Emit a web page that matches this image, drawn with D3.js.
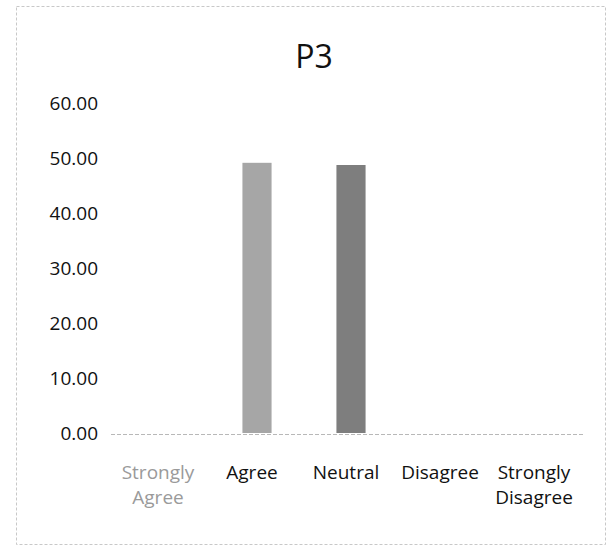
<!DOCTYPE html>
<html>
<head>
<meta charset="utf-8">
<script src="https://cdn.jsdelivr.net/npm/d3@7"></script>
<style>
  html, body { margin: 0; padding: 0; background: #fff; }
  svg { display: block; }
  text { font-family: "Open Sans", "Noto Sans", sans-serif; }
</style>
</head>
<body>
<svg id="chart" width="608" height="549"></svg>
<script>
// ---- data ----
const title = "P3";
const categories = ["Strongly Agree", "Agree", "Neutral", "Disagree", "Strongly Disagree"];
const values = [0, 49.2, 48.8, 0, 0];
const yTicks = [0, 10, 20, 30, 40, 50, 60];
const barColors = ["#9e9e9e", "#a6a6a6", "#7e7e7e", "#8c8c8c", "#8c8c8c"];
const labelColors = ["#9a9a9a", "#111", "#111", "#111", "#111"];

const svg = d3.select("#chart");

// frame (faint scanned border)
svg.append("rect")
  .attr("x", 16.5).attr("y", 6.5).attr("width", 589).attr("height", 538)
  .attr("fill", "none").attr("stroke", "#c8c8c8").attr("stroke-width", 1)
  .attr("stroke-dasharray", "3,2");

const x = d3.scaleBand().domain(categories).range([111, 581]).padding(0);
const y = d3.scaleLinear().domain([0, 60]).range([433, 103.5]);
const barW = x.bandwidth() * 0.31;

// title
svg.append("text")
  .attr("x", 314).attr("y", 68)
  .attr("text-anchor", "middle")
  .attr("font-size", 32).attr("fill", "#111")
  .text(title);

// y axis (labels only)
const yAxis = d3.axisLeft(y).tickValues(yTicks).tickFormat(d3.format(".2f")).tickSize(0).tickPadding(0);
const gy = svg.append("g").attr("transform", "translate(98,0)").call(yAxis);
gy.select(".domain").remove();
gy.selectAll("text")
  .attr("font-family", "'Open Sans', sans-serif")
  .attr("font-size", 19).attr("fill", "#111");

// bars
svg.append("g").selectAll("rect")
  .data(categories.map((c, i) => ({c, v: values[i], i})).filter(d => d.v > 0))
  .join("rect")
  .attr("x", d => x(d.c) + (x.bandwidth() - barW) / 2 + 5)
  .attr("y", d => y(d.v))
  .attr("width", barW)
  .attr("height", d => y(0) - y(d.v))
  .attr("fill", d => barColors[d.i]);

// x axis line
svg.append("line")
  .attr("x1", 111).attr("x2", 583).attr("y1", 434.5).attr("y2", 434.5)
  .attr("stroke", "#b8b8b8").attr("stroke-width", 1).attr("stroke-dasharray", "4,2");

// category labels
const xAxis = d3.axisBottom(x).tickSize(0).tickPadding(0);
const gx = svg.append("g").attr("transform", "translate(0,434)").call(xAxis);
gx.select(".domain").remove();
gx.selectAll(".tick text").each(function(d) {
  const t = d3.select(this);
  const words = d.split(" ");
  t.text(null).attr("y", 0).attr("dy", null)
    .attr("font-family", "'Open Sans', sans-serif")
    .attr("font-size", 19)
    .attr("fill", labelColors[categories.indexOf(d)]);
  words.forEach((w, k) => {
    t.append("tspan").attr("x", 0).attr("y", 45 + k * 25).text(w);
  });
});
</script>
</body>
</html>
